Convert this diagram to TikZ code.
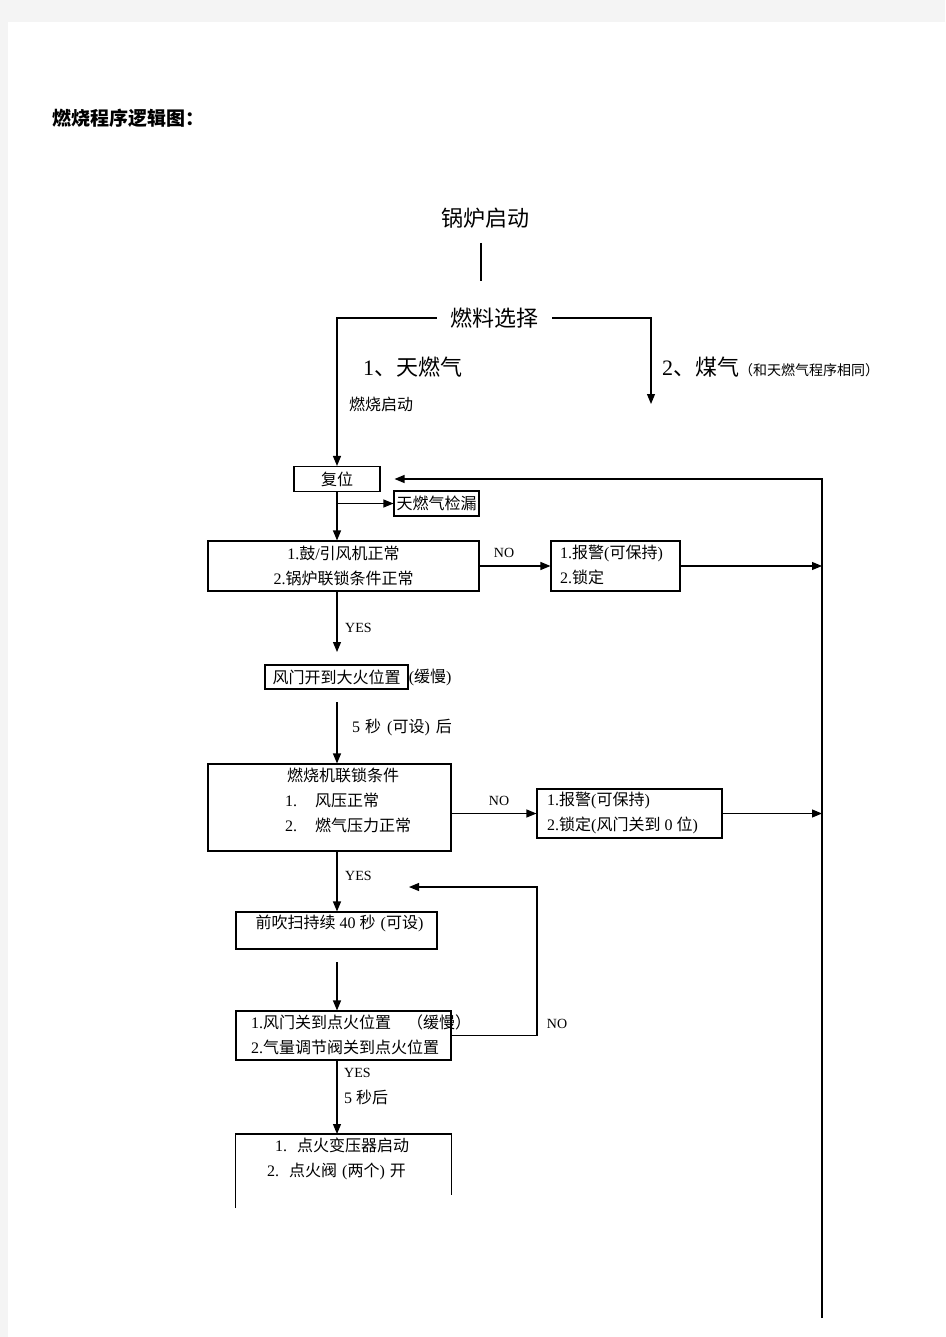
\documentclass[tikz,border=0pt]{standalone}
\usepackage{fontspec}
\setmainfont{Liberation Serif}
\newfontfamily\zhfont{Noto Sans CJK SC}
\newcommand{\zh}[1]{{\zhfont #1}}
\usetikzlibrary{arrows.meta}
\definecolor{pagegray}{HTML}{F4F4F4}
\begin{document}
\begin{tikzpicture}[x=1pt,y=-1pt,
  box/.style={draw, line width=1.1pt, rectangle, inner sep=0pt},
  conn/.style={line width=1.1pt},
  arr/.style={conn, -{Triangle[length=10pt,width=8pt]}},
  txt/.style={inner sep=0pt, font=\fontsize{16}{25}\selectfont},
  big/.style={inner sep=0pt, font=\fontsize{22}{26}\selectfont},
  lab/.style={inner sep=0pt, font=\fontsize{14}{16}\selectfont},
]
\useasboundingbox (0,0) rectangle (945,1337);
\fill[pagegray] (0,0) rectangle (945,1337);
\fill[white] (8,22) rectangle (945,1337);

% title
\node[anchor=west, inner sep=0pt, font=\fontsize{19}{21}\selectfont\bfseries] (title) at (52,118) {\zh{燃烧程序逻辑图：}};

% top part
\node[big] (boiler) at (485,218) {\zh{锅炉启动}};
\coordinate (l1) at (481,243);
\coordinate (l2) at (481,281);
\draw[conn] (l1) -- (l2);
\node[big, inner xsep=13.5pt] (fuel) at (494.5,318) {\zh{燃料选择}};
\node[big, anchor=west] (ng) at (363,367) {1\zh{、天燃气}};
\node[inner sep=0pt, anchor=base west] (coal) at (662,375) {\fontsize{22}{26}\selectfont 2\zh{、煤气}\fontsize{14}{16}\selectfont\zh{（和天燃气程序相同）}};
\node[txt, anchor=west] (burnstart) at (349,404) {\zh{燃烧启动}};
\coordinate (gasend) at (651,404);

% boxes
\node[box, txt, minimum width=86pt, minimum height=25pt] (reset) at (337,479) {\zh{复位}};
\node[box, txt, minimum width=85pt, minimum height=25pt] (leak) at (436.5,503.5) {\zh{天燃气检漏}};
\node[box, txt, minimum width=271pt, minimum height=50pt, align=center] (b1) at (343.5,566) {1.\zh{鼓}/\zh{引风机正常}\\2.\zh{锅炉联锁条件正常}};
\node[box, minimum width=129pt, minimum height=50pt] (a1) at (615.5,566) {};
\node[txt, anchor=west, align=left] (ta1) at (560,565) {1.\zh{报警}(\zh{可保持})\\2.\zh{锁定}};
\node[box, txt, minimum width=143pt, minimum height=24pt] (damper) at (336.5,677) {\zh{风门开到大火位置}};
\node[txt, anchor=west] (slow1) at (damper.east) {(\zh{缓慢})};
\node[box, minimum width=243pt, minimum height=87pt] (b2) at (329.5,807.5) {};
\node[txt] (t2a) at (343,775) {\zh{燃烧机联锁条件}};
\node[txt, anchor=west, align=left] (t2b) at (285,812.5) {\makebox[30pt][l]{1.}\zh{风压正常}\\\makebox[30pt][l]{2.}\zh{燃气压力正常}};
\node[box, minimum width=185pt, minimum height=49pt] (a2) at (629.5,813.5) {};
\node[txt, anchor=west, align=left] (ta2) at (547,812.5) {1.\zh{报警}(\zh{可保持})\\2.\zh{锁定}(\zh{风门关到} 0 \zh{位})};
\node[box, minimum width=201pt, minimum height=37pt] (b3) at (336.5,930.5) {};
\node[txt] (t3) at (339.5,923) {\zh{前吹扫持续} 40 \zh{秒}\hspace{5pt}(\zh{可设})};
\node[box, minimum width=215pt, minimum height=49pt] (b4) at (343.5,1035.5) {};
\node[txt, anchor=west, align=left] (t4) at (251,1034.5) {1.\zh{风门关到点火位置　（缓慢）}\\2.\zh{气量调节阀关到点火位置}};
\node[minimum width=215pt, minimum height=74pt, anchor=north, inner sep=0pt] (b5) at (343.5,1134) {};
\draw[conn] ([yshift=-74pt]b5.north west) -- (b5.north west) -- (b5.north east) -- ([yshift=-61pt]b5.north east);
\node[txt, anchor=west, align=left] (t5) at (267,1159) {\hspace*{8pt}1.\hspace{10pt}\zh{点火变压器启动}\\2.\hspace{10pt}\zh{点火阀}\hspace{5pt}(\zh{两个})\hspace{5pt}\zh{开}};

% labels
\node[lab, anchor=west] (yes1) at (345,628) {YES};
\node[lab] (no1) at (504,553) {NO};
\node[txt, anchor=west] (wait5) at (352,727) {5\hspace{5pt}\zh{秒}\hspace{6pt}(\zh{可设})\hspace{6pt}\zh{后}};
\node[lab] (no2) at (499,801) {NO};
\node[lab, anchor=west] (yes2) at (345,876) {YES};
\node[lab] (no3) at (557,1024) {NO};
\node[lab, anchor=west] (yes3) at (344,1073) {YES};
\node[txt, anchor=west] (wait5b) at (344,1097) {5 \zh{秒后}};

% coordinates
\coordinate (rtop) at (822,479);
\coordinate (rbot) at (822,1318);
\coordinate (rtip) at ([xshift=14pt]reset.east);
\coordinate (yes1tip) at (337,652);
\coordinate (d2start) at (337,702);
\coordinate (b34) at (337,962);
\coordinate (looptip) at (409,887);
\coordinate (loopc) at (537,887);

% connectors
\draw[arr] (fuel.west) -| (reset.north);
\draw[arr] (fuel.east) -| (gasend);
\draw[arr] (reset.south) -- (reset.south |- b1.north);
\draw[arr] (reset.south |- leak.west) -- (leak.west);
\draw[arr] (b1.east) -- (a1.west);
\draw[arr] (a1.east) -- (a1.east -| rtop);
\draw[arr, line width=1.3pt] (rbot) -- (rtop) -- (rtip);
\draw[arr] (b1.south -| yes1tip) -- (yes1tip);
\draw[arr] (d2start) -- (d2start |- b2.north);
\draw[arr] (a2.west -| b2.east) -- (a2.west);
\draw[arr] (a2.east) -- (a2.east -| rtop);
\draw[arr] (b2.south -| d2start) -- (d2start |- b3.north);
\draw[arr] (b34) -- (b34 |- b4.north);
\draw[arr] (b4.east) -| (loopc) -- (looptip);
\draw[arr] (b4.south -| b34) -- (b34 |- b5.north);
\end{tikzpicture}
\end{document}
